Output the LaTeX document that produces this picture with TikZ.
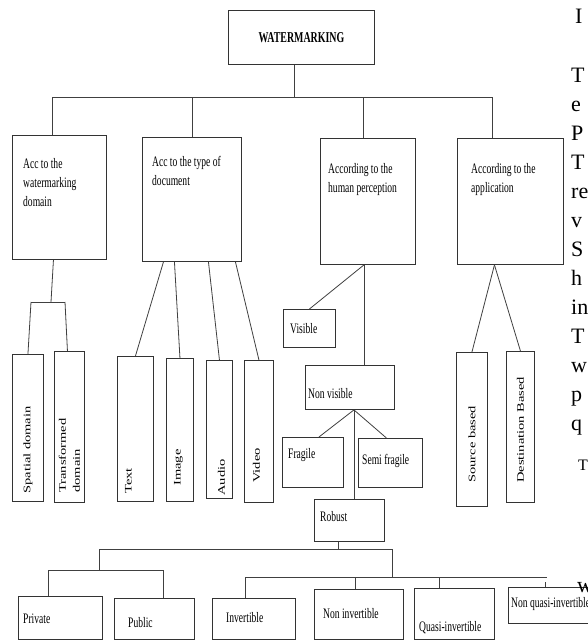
\documentclass[tikz,border=0pt]{standalone}
\usepackage{fontspec}
\setmainfont{Liberation Serif}
\newfontfamily\boxfont[FakeStretch=0.66]{Liberation Serif}
\newfontfamily\sidefont[FakeStretch=1.45]{Liberation Serif}

\tikzset{
    box/.style={draw=black!80, line width=0.9pt, inner sep=0pt, anchor=north west},
    wire/.style={draw=black!75, line width=0.8pt},
    lbl/.style={font=\boxfont\fontsize{14.5}{19}\selectfont, inner sep=0pt, align=left, anchor=north west},
    tag/.style={font=\boxfont\fontsize{14.5}{17}\selectfont, inner sep=0pt, anchor=west},
    vlbl/.style={font=\sidefont\fontsize{10}{14}\selectfont, inner sep=0pt, align=left, rotate=90, anchor=west},
    pagetxt/.style={font=\fontsize{22}{22}\selectfont, inner sep=0pt, anchor=base west},
}

\begin{document}
\begin{tikzpicture}[x=1pt, y=-1pt]
    \useasboundingbox (0,0) rectangle (588,641);
    \fill[white] (0,0) rectangle (588,641);
    \clip (0,0) rectangle (588,641);

    % root and first level
    \node[box, minimum width=146pt, minimum height=54pt, font=\boxfont\bfseries\fontsize{15}{15}\selectfont] (wm) at (228,10) {WATERMARKING};
    \node[box, minimum width=94pt, minimum height=124pt] (dom) at (12,135) {};
    \node[box, minimum width=99pt, minimum height=124pt] (doc) at (142,137) {};
    \node[box, minimum width=95pt, minimum height=126pt] (hum) at (320,138) {};
    \node[box, minimum width=106pt, minimum height=126pt] (app) at (457,138) {};
    \node[lbl] (dom-l) at ([shift={(11,23)}]dom.north west) {Acc to the\\watermarking\\domain};
    \node[lbl] (doc-l) at ([shift={(10,19)}]doc.north west) {Acc to the type of\\document};
    \node[lbl] (hum-l) at ([shift={(8,25)}]hum.north west) {According to the\\human perception};
    \node[lbl] (app-l) at ([shift={(14,25)}]app.north west) {According to the\\application};

    \coordinate (bus) at (294,97);
    \coordinate (busL) at (52,97);
    \coordinate (busR) at (492,97);
    \draw[wire] (wm.south -| bus) -- (bus);
    \draw[wire] (busL |- dom.north) -- (busL) -- (busR) -- (busR |- app.north);
    \draw[wire] (doc.north |- bus) -- (doc.north);
    \draw[wire] ([xshift=-5pt]hum.north |- bus) -- ([xshift=-5pt]hum.north);

    % domain
    \node[box, minimum width=31pt, minimum height=147pt] (spa) at (12,354) {};
    \node[box, minimum width=30pt, minimum height=151pt] (tra) at (54,351) {};
    \coordinate (forkM) at (51,302);
    \coordinate (forkA) at (31,302);
    \coordinate (forkB) at (65,302);
    \draw[wire] ([xshift=-6pt]dom.south) -- (forkM);
    \draw[wire] (forkA) -- (forkB);
    \draw[wire] (forkA) -- (spa.north);
    \draw[wire] (forkB) -- ([xshift=-2pt]tra.north);
    \node[vlbl] (spa-l) at ([yshift=8pt]spa.south) {Spatial domain};
    \node[vlbl] (tra-l) at ([yshift=10pt]tra.south) {Transformed\\domain};

    % document type
    \node[box, minimum width=36pt, minimum height=145pt] (txt) at (117,356) {};
    \node[box, minimum width=27pt, minimum height=143pt] (img) at (166,358) {};
    \node[box, minimum width=26pt, minimum height=138pt] (aud) at (206,360) {};
    \node[box, minimum width=29pt, minimum height=142pt] (vid) at (244,360) {};
    \foreach \leaf/\dx in {txt/-28.5, img/-17.5, aud/16.5, vid/43.5}
        \draw[wire] ([xshift=\dx pt]doc.south) -- (\leaf.north);
    \foreach \leaf/\word/\dx/\dy in {txt/Text/-7/8, img/Image/-1.5/16, aud/Audio/2/3, vid/Video/-2.5/20}
        \node[vlbl] (\leaf-l) at ([shift={(\dx,-\dy)}]\leaf.south) {\word};

    % perception
    \node[box, minimum width=52pt, minimum height=38pt] (vis) at (283,309) {};
    \node[box, minimum width=89pt, minimum height=44pt] (nvis) at (305,365) {};
    \node[box, minimum width=61pt, minimum height=50pt] (frag) at (282,437) {};
    \node[box, minimum width=64pt, minimum height=49pt] (sfrag) at (358,438) {};
    \node[box, minimum width=70pt, minimum height=42pt] (rob) at (314,499) {};
    \node[tag] (vis-l) at ([xshift=7pt]vis.west) {Visible};
    \node[tag] (nvis-l) at ([shift={(3,6)}]nvis.west) {Non visible};
    \node[tag] (frag-l) at ([shift={(6,-7)}]frag.west) {Fragile};
    \node[tag] (sfrag-l) at ([shift={(4,-1.5)}]sfrag.west) {Semi fragile};
    \node[tag] (rob-l) at ([shift={(6,-4)}]rob.west) {Robust};

    \coordinate (humfoot) at ([xshift=-4pt]hum.south);
    \coordinate (nvfoot) at ([xshift=4pt]nvis.south);
    \draw[wire] (humfoot) -- (vis.north);
    \draw[wire] (humfoot) -- (humfoot |- nvis.north);
    \draw[wire] (nvfoot) -- ([xshift=6pt]frag.north);
    \draw[wire] (nvfoot) -- ([xshift=-4pt]sfrag.north);
    \draw[wire] (nvfoot) -- (nvfoot |- rob.north);

    % robust
    \foreach \nm/\x/\y/\w/\h/\txt/\dx/\dy in {priv/18/596/84/43/Private/5/0.5,
            pub/114/598/80/41/Public/14/3.5, inv/212/598/83/41/Invertible/14/-1.5,
            ninv/314/589/89/50/Non invertible/9/-1, qinv/414/588/80/51/Quasi-invertible/5/13.5,
            nqinv/508/587/100/36/Non quasi-invertible/3/-1}
    {
        \node[box, minimum width=\w pt, minimum height=\h pt] (\nm) at (\x,\y) {};
        \node[tag] (\nm-l) at ([shift={(\dx,\dy)}]\nm.west) {\txt};
    }
    \coordinate (robfoot) at ([xshift=-11pt]rob.south);
    \coordinate (barA) at (99,549);
    \coordinate (barB) at (392,549);
    \coordinate (pairL) at (48,570);
    \coordinate (pairR) at (163,570);
    \coordinate (rowL) at (245,577);
    \coordinate (rowR) at (547,577);
    \draw[wire] (robfoot) -- (robfoot |- barA);
    \draw[wire] (barA) -- (barB);
    \draw[wire] (barA) -- (barA |- pairL);
    \draw[wire] (pairL |- priv.north) -- (pairL) -- (pairR) -- (pairR |- pub.north);
    \draw[wire] (barB) -- (barB |- rowL);
    \draw[wire] (rowL |- inv.north) -- (rowL) -- (rowR);
    \draw[wire] ([xshift=-3.5pt]ninv.north |- rowL) -- ([xshift=-3.5pt]ninv.north);
    \draw[wire] ([xshift=-15pt]qinv.north |- rowL) -- ([xshift=-15pt]qinv.north);
    \draw[wire] ([shift={(-13,-5)}]nqinv.north) -- ([xshift=-13pt]nqinv.north);

    % application
    \node[box, minimum width=31pt, minimum height=154pt] (src) at (456,352) {};
    \node[box, minimum width=28pt, minimum height=151pt] (dst) at (506,351) {};
    \coordinate (appfoot) at ([xshift=-16pt]app.south);
    \draw[wire] (appfoot) -- (src.north);
    \draw[wire] (appfoot) -- (dst.north);
    \node[vlbl] (src-l) at ([yshift=24pt]src.south) {Source based};
    \node[vlbl] (dst-l) at ([yshift=20pt]dst.south) {Destination Based};

    % page text cut at the right edge
    \node[pagetxt] (pI) at (575,23) {I};
    \foreach \ch [count=\i] in {T,e,P,T,re,v,S,h,in,T,w,p,q}
        \node[pagetxt] (p\i) at (571,53+29*\i) {\ch};
    \node[pagetxt, font=\fontsize{16}{16}\selectfont] (pT) at (578,470) {T};
    \node[pagetxt] (pw) at (577,592) {w};
\end{tikzpicture}
\end{document}
